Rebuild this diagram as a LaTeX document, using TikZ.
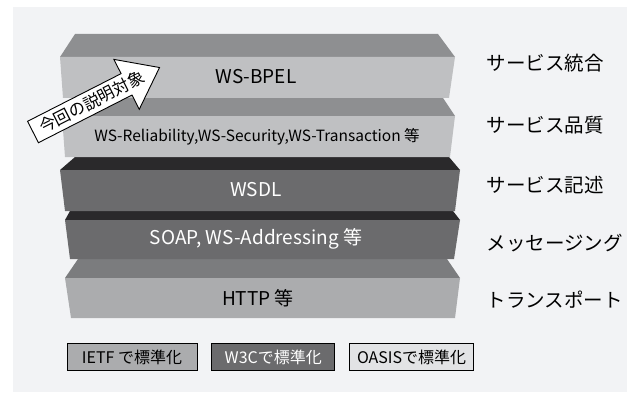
\documentclass[tikz,border=0pt]{standalone}
\usepackage{fontspec}
\setmainfont{Noto Sans CJK JP}
\usepackage{tikz}
\usetikzlibrary{positioning}

\definecolor{panel}{HTML}{F2F3F5}
\definecolor{topmid}{HTML}{8E8F91}
\definecolor{frontlight}{HTML}{BFC0C2}
\definecolor{topdark}{HTML}{2A292B}
\definecolor{frontdark}{HTML}{6B6B6D}
\definecolor{toplow}{HTML}{7B7C7E}
\definecolor{frontlow}{HTML}{ABACAE}
\definecolor{oasis}{HTML}{E2E3E5}

\begin{document}
\begin{tikzpicture}[x=1pt, y=-1pt,
    layertext/.style={font=\fontsize{19}{19}\selectfont},
    rolelabel/.style={anchor=west, font=\fontsize{19.5}{19.5}\selectfont},
    legend/.style={draw=black, line width=0.8pt, minimum height=27pt, inner sep=0pt,
      font=\fontsize{16}{16}\selectfont},
    scopearrow/.style={draw=black, line width=0.9pt, fill=white, line join=miter}]
  \useasboundingbox (0,0) rectangle (627,404);
  \fill[white] (0,0) rectangle (627,404);
  \fill[panel] (13,7) rectangle (627,392);

  % transport layer
  \fill[toplow]     (78,259) -- (447,259) -- (460,278) -- (65,278) -- cycle;
  \fill[frontlow]   (65,278) -- (460,278) -- (455,318) -- (71,318) -- cycle;
  % messaging layer
  \fill[topdark]    (70,211) -- (453,211) -- (460,220) -- (65,220) -- cycle;
  \fill[frontdark]  (65,220) -- (460,220) -- (454,259) -- (70,259) -- cycle;
  % description layer
  \fill[topdark]    (75,157) -- (449,157) -- (460,170) -- (60,170) -- cycle;
  \fill[frontdark]  (60,170) -- (460,170) -- (455,211) -- (65,211) -- cycle;
  % quality layer
  \fill[topmid]     (75,98) -- (443,98) -- (455,116) -- (62,116) -- cycle;
  \fill[frontlight] (62,116) -- (455,116) -- (450,157) -- (65,157) -- cycle;
  % integration layer
  \fill[topmid]     (75,34) -- (438,34) -- (455,57) -- (60,57) -- cycle;
  \fill[frontlight] (60,57) -- (455,57) -- (449,98) -- (63,98) -- cycle;

  \node[layertext]              (bpel) at (256,77)  {WS-BPEL};
  \node[font=\fontsize{15.5}{15.5}\selectfont]
                                (qos)  at (257,137) {WS-Reliability,WS-Security,WS-Transaction 等};
  \node[layertext, text=white]  (wsdl) at (256,190) {WSDL};
  \node[layertext, text=white]  (soap) at (256,239) {SOAP, WS-Addressing 等};
  \node[layertext]              (http) at (258,298) {HTTP 等};

  \node[rolelabel] (integ) at (483,63)  {サービス統合};
  \node[rolelabel] (qual)  at (483,125) {サービス品質};
  \node[rolelabel] (desc)  at (483,185) {サービス記述};
  \node[rolelabel] (msg)   at (483,243) {メッセージング};
  \node[rolelabel] (trans) at (483,300) {トランスポート};

  % the block arrow
  \begin{scope}[shift={(33,132)}, rotate=27]
    \draw[scopearrow] (0,-12) -- (105,-12) -- (105,-28) -- (142,0)
      -- (105,28) -- (105,12) -- (0,12) -- cycle;
    \node[rotate=27, inner sep=0pt, font=\fontsize{16.5}{16.5}\selectfont] (target) at (66,0) {今回の説明対象};
  \end{scope}

  \node[legend, fill=frontlow, minimum width=130pt] (ietf) at (132,357) {IETF で標準化};
  \node[legend, fill=frontdark, text=white, minimum width=123pt, right=14pt of ietf] (w3c) {W3Cで標準化};
  \node[legend, fill=oasis, minimum width=124pt, right=14pt of w3c] (oasis) {OASISで標準化};
\end{tikzpicture}
\end{document}
